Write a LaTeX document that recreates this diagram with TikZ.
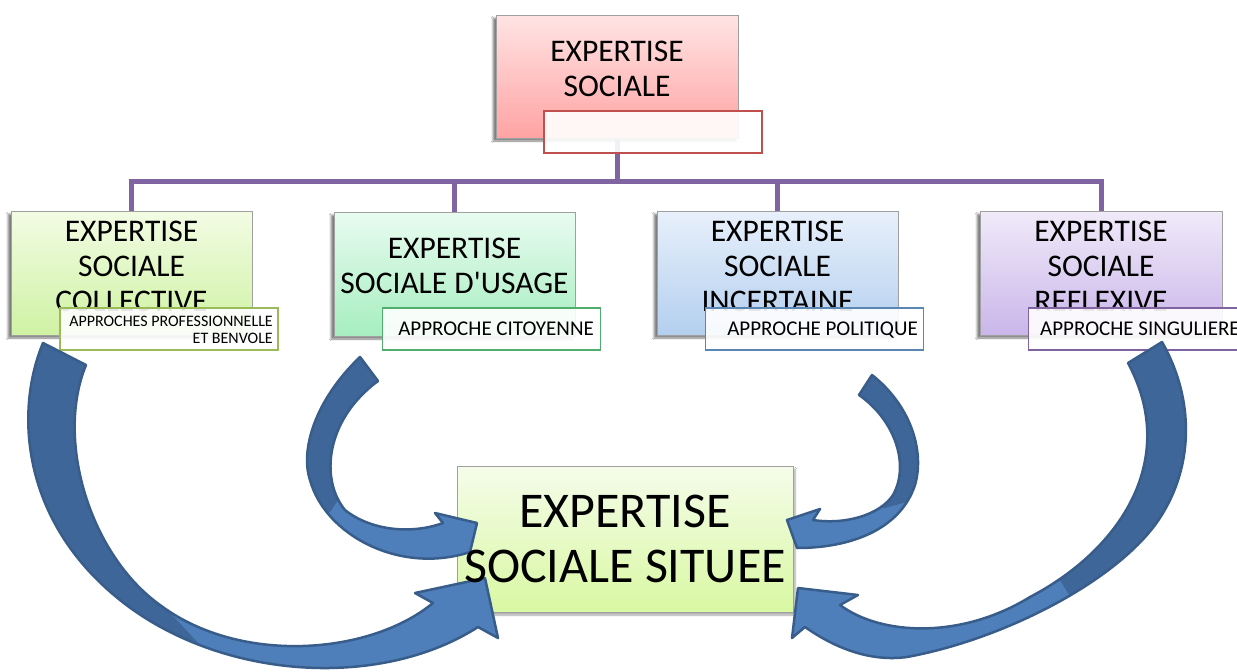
\documentclass[tikz,border=0pt]{standalone}
\usepackage{fontspec}
\setmainfont{Carlito}
\usetikzlibrary{shadows.blur}
\definecolor{arrD}{HTML}{3F6698}
\definecolor{arrL}{HTML}{4E7FBB}
\definecolor{arrO}{HTML}{385D8A}
\definecolor{connc}{HTML}{8064A2}
\definecolor{boxline}{HTML}{A0A0A0}
\definecolor{t0a}{HTML}{FFE4E4}\definecolor{t0b}{HTML}{FFA3A3}
\definecolor{t1a}{HTML}{F2FCE4}\definecolor{t1b}{HTML}{CFF2A3}
\definecolor{t2a}{HTML}{E9FBF0}\definecolor{t2b}{HTML}{A6EEC0}
\definecolor{t3a}{HTML}{E8F0FB}\definecolor{t3b}{HTML}{B3CFEF}
\definecolor{t4a}{HTML}{F0EAF9}\definecolor{t4b}{HTML}{CAB6EA}
\definecolor{tca}{HTML}{F5FCEA}\definecolor{tcb}{HTML}{D9F8A2}
\definecolor{s0c}{HTML}{C0504D}\definecolor{s1c}{HTML}{9BBB59}
\definecolor{s2c}{HTML}{4FAE6E}\definecolor{s3c}{HTML}{5A86B3}
\definecolor{s4c}{HTML}{8064A2}
\newcommand\myblockarrow[2]{%
  \fill[arrL] #1;
  \begin{scope}\clip #2; \fill[arrD] #1; \end{scope}
  \draw[arrO, line width=2.5pt, line join=round] #1;}
\begin{document}
\begin{tikzpicture}[x=1pt,y=-1pt,
  mainbox/.style={draw=boxline, line width=1pt, inner sep=0pt,
    blur shadow={shadow xshift=-3pt, shadow yshift=-3pt, shadow blur steps=6, shadow opacity=50}},
  subbox/.style={fill=white, fill opacity=0.9, line width=1.3pt, minimum width=218pt, minimum height=42pt, inner sep=0pt},
  conn/.style={draw=connc, line width=5pt},
  maintext/.style={font=\fontsize{31.5}{35}\selectfont, align=center, inner sep=0pt, anchor=north},
  subtext/.style={font=\fontsize{21}{24}\selectfont, inner sep=0pt}]
\useasboundingbox (0,0) rectangle (1237,672);
\fill[white] (0,0) rectangle (1237,672);

% boxes
\node[mainbox, top color=t0a, bottom color=t0b, minimum width=242pt, minimum height=123pt] (b0) at (617,76.5) {};
\node[maintext] (b0t) at (617,41) {EXPERTISE\\SOCIALE};

\node[mainbox, top color=t1a, bottom color=t1b, minimum width=241pt, minimum height=124pt] (b1) at (131.5,273) {};
\node[maintext] (b1t) at (131.5,221) {EXPERTISE\\SOCIALE\\COLLECTIVE};

\node[mainbox, top color=t2a, bottom color=t2b, minimum width=241pt, minimum height=124pt] (b2) at (454.5,274) {};
\node[maintext] (b2t) at (454.5,238) {EXPERTISE\\SOCIALE D\textquotesingle USAGE};

\node[mainbox, top color=t3a, bottom color=t3b, minimum width=241pt, minimum height=124pt] (b3) at (777.5,273) {};
\node[maintext] (b3t) at (777.5,221) {EXPERTISE\\SOCIALE\\INCERTAINE};

\node[mainbox, top color=t4a, bottom color=t4b, minimum width=242pt, minimum height=124pt] (b4) at (1101,273) {};
\node[maintext] (b4t) at (1101,221) {EXPERTISE\\SOCIALE\\REFLEXIVE};

% connectors
\coordinate (bar) at (617,181);
\draw[conn] (b0.south) -- (bar);
\draw[conn] (b1.north) |- (bar) -| (b4.north);
\draw[conn] (b2.north) -- (b2.north |- bar);
\draw[conn] (b3.north) -- (b3.north |- bar);

% sub boxes
\node[subbox, draw=s0c] (s0) at (653,132) {};
\node[subbox, draw=s1c] (s1) at (169,329) {};
\node[subtext, font=\fontsize{16}{17}\selectfont, align=right, anchor=north east] (s1t) at (273,315.5) {APPROCHES PROFESSIONNELLE\\ET BENVOLE};
\node[subbox, draw=s2c] (s2) at (491.5,329) {};
\node[subtext, anchor=base east] (s2t) at (594,335) {APPROCHE CITOYENNE};
\node[subbox, draw=s3c] (s3) at (814.5,329) {};
\node[subtext, anchor=base east] (s3t) at (918,335) {APPROCHE POLITIQUE};
\node[subbox, draw=s4c] (s4) at (1137.5,329) {};
\node[subtext, anchor=base west] (s4t) at (1040,335) {APPROCHE SINGULIERE};

% centre box
\node[draw=boxline, line width=1pt, top color=tca, bottom color=tcb, minimum width=336pt, minimum height=146pt,
  blur shadow={shadow xshift=2pt, shadow yshift=-3pt, shadow blur steps=6, shadow opacity=35}] (c) at (625,539) {};

% curved block arrows
\myblockarrow{(43,343) .. controls (15,410) and (20,520) .. (120,600) .. controls (220,680) and (380,690) .. (478,627) -- (498,638) -- (485,578) -- (415,593) -- (433,603) .. controls (370,655) and (240,665) .. (160,605) .. controls (90,555) and (55,440) .. (86,365) -- cycle}
  {(0,330) -- (130,330) -- (130,570) -- (160,602) -- (225,672) -- (0,672) -- cycle}
\myblockarrow{(360,357) .. controls (315,400) and (300,450) .. (310,480) .. controls (325,535) and (400,575) .. (470,552) -- (477,523) -- (435,513) -- (443,523) .. controls (410,535) and (370,530) .. (345,510) .. controls (320,480) and (325,420) .. (378,381) -- cycle}
  {(290,340) -- (420,340) -- (345,490) -- (330,512) -- (290,512) -- cycle}
\myblockarrow{(872,375) .. controls (910,405) and (925,450) .. (915,485) .. controls (900,530) and (850,548) .. (797,548) -- (787,520) -- (820,509) -- (813,520) .. controls (845,525) and (880,515) .. (893,495) .. controls (910,465) and (895,420) .. (859,395) -- cycle}
  {(840,360) -- (950,360) -- (950,490) -- (885,508) -- (840,500) -- cycle}
\myblockarrow{(1162,342) .. controls (1195,400) and (1195,470) .. (1155,525) .. controls (1110,585) and (1000,640) .. (907,657) .. controls (870,662) and (835,648) .. (805,627) -- (792,638) -- (798,588) -- (858,595) -- (840,605) .. controls (880,635) and (960,640) .. (1030,597) .. controls (1120,550) and (1180,460) .. (1128,363) -- cycle}
  {(1000,330) -- (1237,330) -- (1237,672) -- (1120,672) -- (1081,615) -- (1045,555) -- (1000,480) -- cycle}

\node[font=\fontsize{50}{55}\selectfont, align=center, inner sep=0pt, anchor=north] (ct) at (625,495) {EXPERTISE\\SOCIALE SITUEE};
\end{tikzpicture}
\end{document}
